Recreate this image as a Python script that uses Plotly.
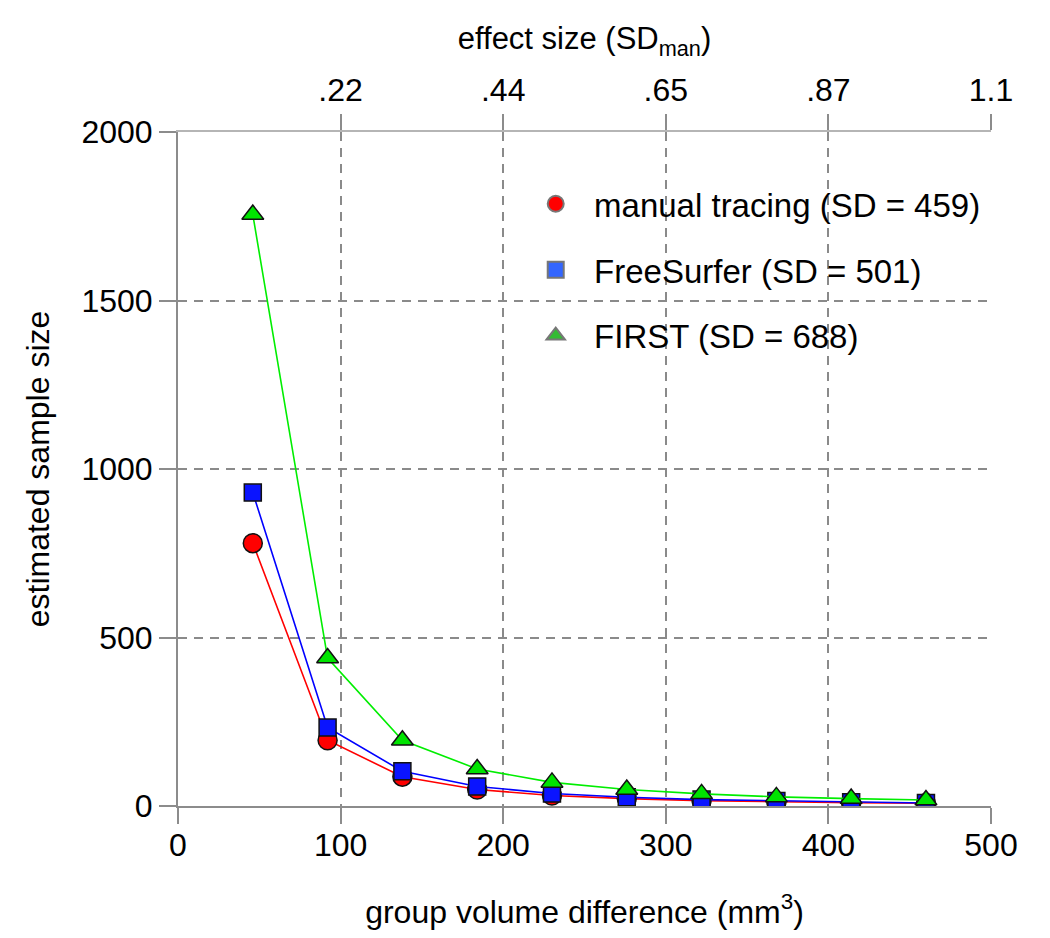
import plotly.graph_objects as go

# data
volume_diff = [46, 92, 138, 184, 230, 276, 322, 368, 414, 460]
manual_n = [780, 195, 87, 49, 31, 22, 16, 12, 10, 8]
freesurfer_n = [930, 233, 103, 58, 37, 26, 19, 15, 11, 9]
first_n = [1755, 439, 195, 110, 70, 49, 36, 27, 22, 18]

series_names = ["manual tracing (SD = 459)", "FreeSurfer (SD = 501)", "FIRST (SD = 688)"]
x_ticks = [0, 100, 200, 300, 400, 500]
y_ticks = [0, 500, 1000, 1500, 2000]
top_tickvals = [100, 200, 300, 400, 500]
top_ticktext = [".22", ".44", ".65", ".87", "1.1"]

FONT = "Liberation Sans, Arial, Helvetica, sans-serif"
GRID = "#8a8a8a"
AX = "#8c8c8c"

fig = go.Figure()

line_colors = ["#ff0000", "#0000ff", "#00ee00"]
fill_colors = ["#ff0000", "#0a14ff", "#00e400"]
symbols = ["circle", "square", "triangle-up"]
sizes = [19, 17, 19]
all_y = [manual_n, freesurfer_n, first_n]

for ys, lc, fc, sym, sz in zip(all_y, line_colors, fill_colors, symbols, sizes):
    fig.add_trace(go.Scatter(
        x=volume_diff, y=ys, mode="lines+markers",
        line=dict(color=lc, width=1.6),
        marker=dict(symbol=sym, size=sz, color=fc, line=dict(color="#111111", width=1.5)),
        showlegend=False, hoverinfo="skip",
    ))

legend_fill = ["#ff0000", "#3366ff", "#33bb33"]
for i, (name, fc, sym) in enumerate(zip(series_names, legend_fill, symbols)):
    fig.add_trace(go.Scatter(
        x=[None], y=[None], mode="markers", name="\u00a0\u00a0" + name, legendgroup=f"g{i}",
        marker=dict(symbol=sym, size=18, color=fc, line=dict(color="#777777", width=2)),
    ))

# invisible trace to activate the top axis
fig.add_trace(go.Scatter(x=[None], y=[None], xaxis="x2", showlegend=False, hoverinfo="skip"))

fig.update_layout(
    width=1050, height=938,
    margin=dict(l=170, r=67, t=124, b=140, autoexpand=False),
    paper_bgcolor="white", plot_bgcolor="white",
    font=dict(family=FONT, size=32, color="black"),
    xaxis=dict(
        range=[0, 500], tickvals=x_ticks, showgrid=True, gridcolor=GRID, gridwidth=1.5,
        griddash="9px,7px", zeroline=False, showline=True, linecolor=AX, linewidth=2,
        ticks="outside", ticklen=16, tickwidth=2, tickcolor=AX, ticklabelstandoff=-6,
        tickfont=dict(size=32), automargin=False,
        title=dict(text="group volume difference (mm<sup>3</sup>)", font=dict(size=32), standoff=38),
    ),
    xaxis2=dict(
        range=[0, 500], overlaying="x", side="top", anchor="y",
        tickvals=top_tickvals, ticktext=top_ticktext, showgrid=False, zeroline=False,
        showline=True, linecolor="#b5b5b5", linewidth=2,
        ticks="outside", ticklen=16, tickwidth=2, tickcolor=AX,
        tickfont=dict(size=32), automargin=False,
        title=dict(text="effect size (SD<sub>man</sub>)", font=dict(size=31), standoff=13),
    ),
    yaxis=dict(
        range=[0, 2000], tickvals=y_ticks, showgrid=True, gridcolor=GRID, gridwidth=1.5,
        griddash="9px,7px", zeroline=False, showline=True, linecolor=AX, linewidth=2,
        ticks="outside", ticklen=17, tickwidth=2, tickcolor=AX,
        tickfont=dict(size=32), automargin=False,
        title=dict(text="estimated sample size", font=dict(size=32), standoff=22),
    ),
    legend=dict(
        x=0.44, y=0.935, xanchor="left", yanchor="top",
        bgcolor="rgba(0,0,0,0)", font=dict(size=33), tracegroupgap=20,
    ),
)

fig.write_html("out.html")
